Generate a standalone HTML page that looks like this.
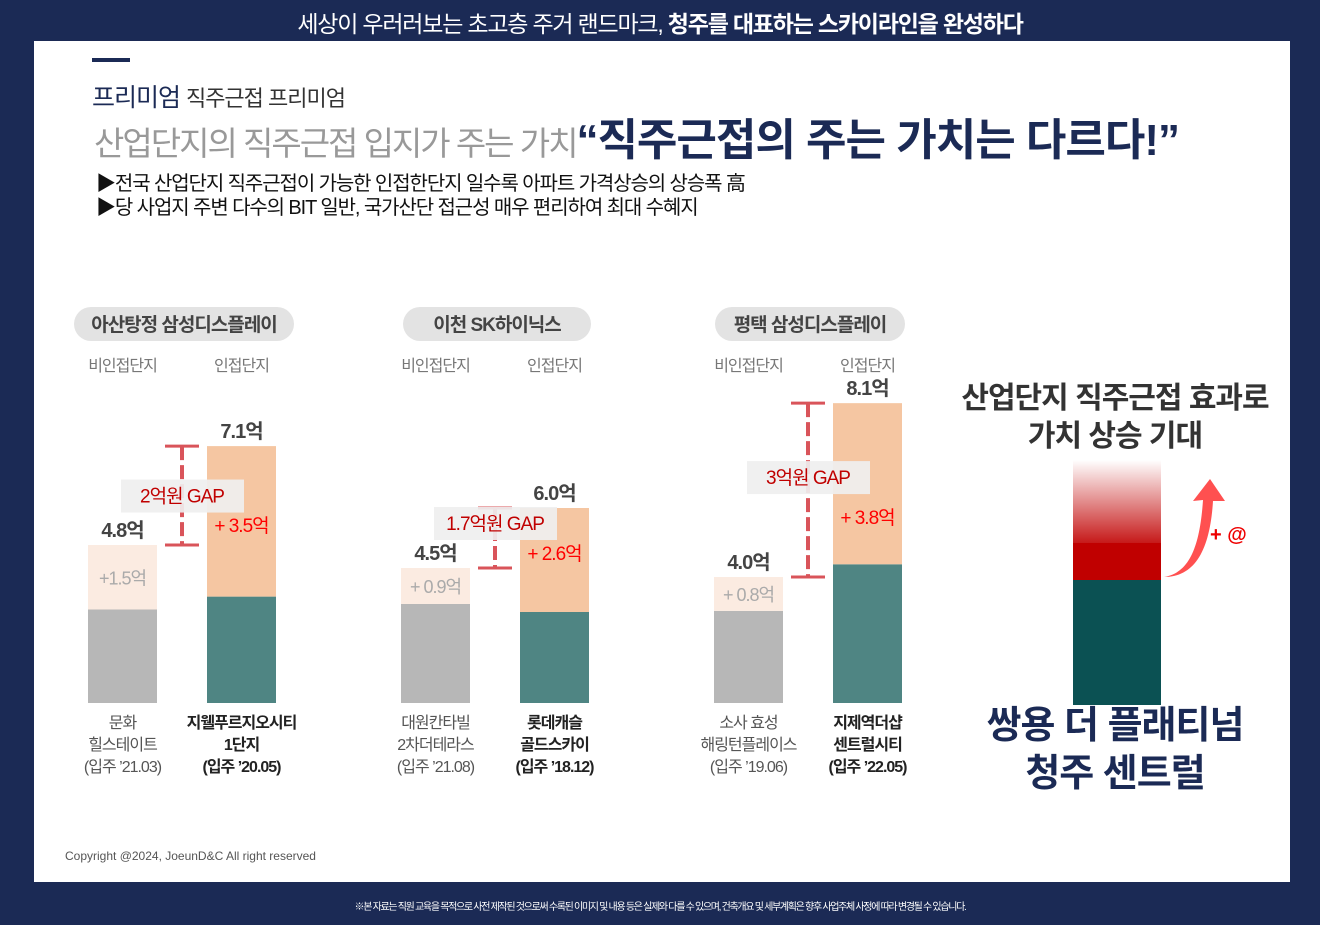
<!DOCTYPE html>
<html><head><meta charset="utf-8">
<style>
*{margin:0;padding:0;box-sizing:border-box}
body{width:1320px;height:925px;background:#1b2a55;position:relative;overflow:hidden;font-family:"Liberation Sans","Noto Sans CJK KR",sans-serif}
.a{position:absolute;white-space:nowrap}
#panel{position:absolute;left:34px;top:41px;width:1256px;height:841px;background:#fff}
</style></head><body>
<div class="a" style="left:0;width:1320px;top:5px;text-align:center;color:#fff;font-size:23px;letter-spacing:-1.2px">세상이 우러러보는 초고층 주거 랜드마크, <b>청주를 대표하는 스카이라인을 완성하다</b></div>
<div id="panel"></div>
<div class="a" style="left:92px;top:58px;width:38px;height:4px;background:#1b2a55"></div>
<div class="a" style="left:92px;top:78px;font-size:25px;color:#1b2a55;letter-spacing:-1px">프리미엄 <span style="font-size:22px;color:#333">직주근접 프리미엄</span></div>
<div class="a" style="left:94px;top:119px;display:flex;align-items:baseline;line-height:1"><span style="font-size:33px;color:#999;letter-spacing:-2px">산업단지의 직주근접 입지가 주는 가치</span><span style="font-size:44px;color:#1b2a55;font-weight:bold;letter-spacing:-1px">“직주근접의 주는 가치는 다르다!”</span></div>
<div class="a" style="left:96px;top:167px;font-size:20px;color:#111;letter-spacing:-1.1px">▶전국 산업단지 직주근접이 가능한 인접한단지 일수록 아파트 가격상승의 상승폭 高</div>
<div class="a" style="left:96px;top:191px;font-size:20px;color:#111;letter-spacing:-1.1px">▶당 사업지 주변 다수의 BIT 일반, 국가산단 접근성 매우 편리하여 최대 수혜지</div>

<svg id="chart" class="a" style="left:0;top:0" width="1320" height="925"></svg>

<div class="a" style="left:940px;width:350px;top:380px;text-align:center;font-size:30px;font-weight:bold;color:#333;line-height:38px;letter-spacing:-1px">산업단지 직주근접 효과로<br>가치 상승 기대</div>
<svg class="a" style="left:1060px;top:455px" width="200" height="260">
<defs><linearGradient id="g" x1="0" y1="0" x2="0" y2="1"><stop offset="0" stop-color="#c00000" stop-opacity="0"/><stop offset="1" stop-color="#c00000" stop-opacity="0.9"/></linearGradient></defs>
<rect x="13" y="5" width="88" height="83" fill="url(#g)"/>
<rect x="13" y="88" width="88" height="37" fill="#c00000"/>
<rect x="13" y="125" width="88" height="125" fill="#0b5153"/>
<path d="M104 122 C130 118 140 90 143 45 L133 46 L150 24 L165 46 L153 46 C150 95 135 122 104 122 Z" fill="#ff5050"/>
<text x="150" y="86" font-size="20" font-weight="bold" fill="#e00" font-family="Liberation Sans">+ @</text>
</svg>
<div class="a" style="left:940px;width:350px;top:702px;text-align:center;font-size:38px;font-weight:bold;color:#1b2a55;line-height:48px;letter-spacing:-1px">쌍용 더 플래티넘<br>청주 센트럴</div>

<div class="a" style="left:65px;top:849px;font-size:12px;color:#555">Copyright @2024, JoeunD&amp;C All right reserved</div>
<div class="a" style="left:0;width:1320px;top:898px;text-align:center;font-size:10px;color:#fff;letter-spacing:-1.3px">※본 자료는 직원 교육을 목적으로 사전 제작된 것으로써 수록된 이미지 및 내용 등은 실제와 다를 수 있으며, 건축개요 및 세부계획은 향후 사업주체 사정에 따라 변경될 수 있습니다.</div>

<script>
const groups = ["아산탕정 삼성디스플레이","이천 SK하이닉스","평택 삼성디스플레이"];
const nonTotal = [4.8, 4.5, 4.0];
const nonRise = [1.5, 0.9, 0.8];
const adjTotal = [7.1, 6.0, 8.1];
const adjRise = [3.5, 2.6, 3.8];
const gapLabels = ["2억원 GAP","1.7억원 GAP","3억원 GAP"];
const nonNames = [["문화","힐스테이트","(입주 ’21.03)"],["대원칸타빌","2차더테라스","(입주 ’21.08)"],["소사 효성","해링턴플레이스","(입주 ’19.06)"]];
const adjNames = [["지웰푸르지오시티","1단지","(입주 ’20.05)"],["롯데캐슬","골드스카이","(입주 ’18.12)"],["지제역더샵","센트럴시티","(입주 ’22.05)"]];
const nonRiseLabels = ["+1.5억","+ 0.9억","+ 0.8억"];

const svg = document.getElementById('chart');
const NS = 'http://www.w3.org/2000/svg';
const groupX = [88, 401, 714];
const pxPer = [43, 40, 42.4];
const anchorY = [545, 568, 577];
const baseY = 703, bw = 69, off = 119;
function yOf(i, v){ return anchorY[i] - (v - nonTotal[i]) * pxPer[i]; }
function mk(tag, attrs, name){
  const e = document.createElementNS(NS, tag);
  for (const k in attrs) e.setAttribute(k, attrs[k]);
  
  
  svg.appendChild(e); return e;
}
function txt(x, y, s, size, fill, weight, name, anchor){
  const t = mk('text', {x:x, y:y, 'font-size':size, fill:fill, 'font-weight':weight||'normal', 'text-anchor':anchor||'middle', 'font-family':'Liberation Sans, Noto Sans CJK KR, sans-serif', 'letter-spacing':'-1'}, name);
  t.textContent = s; return t;
}
const gapShift = [0, -15, -13];
groups.forEach((g, i) => {
  const x0 = groupX[i], x1 = x0 + off;
  const cx = x0 + (bw + off) / 2;
  const pw = [220, 188, 190][i];
  mk('rect', {x:cx - pw/2 + 2, y:307, width:pw, height:34, rx:17, fill:'#e3e3e3'}, 'group-title-pill');
  txt(cx + 2, 331, g, 19, '#444', 'bold', 'group-title');
  txt(x0 + bw/2, 371, '비인접단지', 16, '#777', 'normal', 'non-adjacent-header');
  txt(x1 + bw/2, 371, '인접단지', 16, '#777', 'normal', 'adjacent-header');
  const yT = yOf(i, nonTotal[i]), yB = yOf(i, nonTotal[i] - nonRise[i]);
  mk('rect', {x:x0, y:yB, width:bw, height:baseY - yB, fill:'#b7b7b7'}, 'non-adjacent-base-bar');
  mk('rect', {x:x0, y:yT, width:bw, height:yB - yT, fill:'#fbebe1'}, 'non-adjacent-rise-bar');
  txt(x0 + bw/2, (yT + yB)/2 + 7, nonRiseLabels[i], 18, '#aaa', 'normal', 'non-adjacent-rise-label');
  txt(x0 + bw/2, yT - 8, nonTotal[i].toFixed(1) + '억', 20, '#444', 'bold', 'non-adjacent-total');
  const aT = yOf(i, adjTotal[i]), aB = yOf(i, adjTotal[i] - adjRise[i]);
  mk('rect', {x:x1, y:aB, width:bw, height:baseY - aB, fill:'#4f8583'}, 'adjacent-base-bar');
  mk('rect', {x:x1, y:aT, width:bw, height:aB - aT, fill:'#f5c6a2'}, 'adjacent-rise-bar');
  txt(x1 + bw/2, aT - 8, adjTotal[i].toFixed(1) + '억', 20, '#444', 'bold', 'adjacent-total');
  const bx = x0 + bw + 25;
  mk('line', {x1:bx, y1:aT, x2:bx, y2:yT, stroke:'#d9545a', 'stroke-width':4, 'stroke-dasharray':'14 5'}, 'gap-bracket');
  mk('line', {x1:bx-17, y1:aT, x2:bx+17, y2:aT, stroke:'#d9545a', 'stroke-width':3}, 'gap-bracket-top');
  mk('line', {x1:bx-17, y1:yT, x2:bx+17, y2:yT, stroke:'#d9545a', 'stroke-width':3}, 'gap-bracket-bottom');
  const gy = (aT + yT)/2 + gapShift[i];
  mk('rect', {x:bx - 61, y:gy - 16, width:123, height:33, fill:'#efefef', opacity:0.92}, 'gap-label-box');
  txt(bx, gy + 7, gapLabels[i], 19, '#c00000', 'normal', 'gap-label');
  txt(x1 + bw/2, [532,560,524][i], '+ ' + adjRise[i].toFixed(1) + '억', 19, '#f00', 'normal', 'adjacent-rise-label');
  [0,1,2].forEach(k => {
    txt(x0 + bw/2, 728 + k*22, nonNames[i][k], 16, '#555', 'normal', 'non-adjacent-caption');
    txt(x1 + bw/2, 728 + k*22, adjNames[i][k], 16, '#222', 'bold', 'adjacent-caption');
  });
});
</script>
</body></html>
